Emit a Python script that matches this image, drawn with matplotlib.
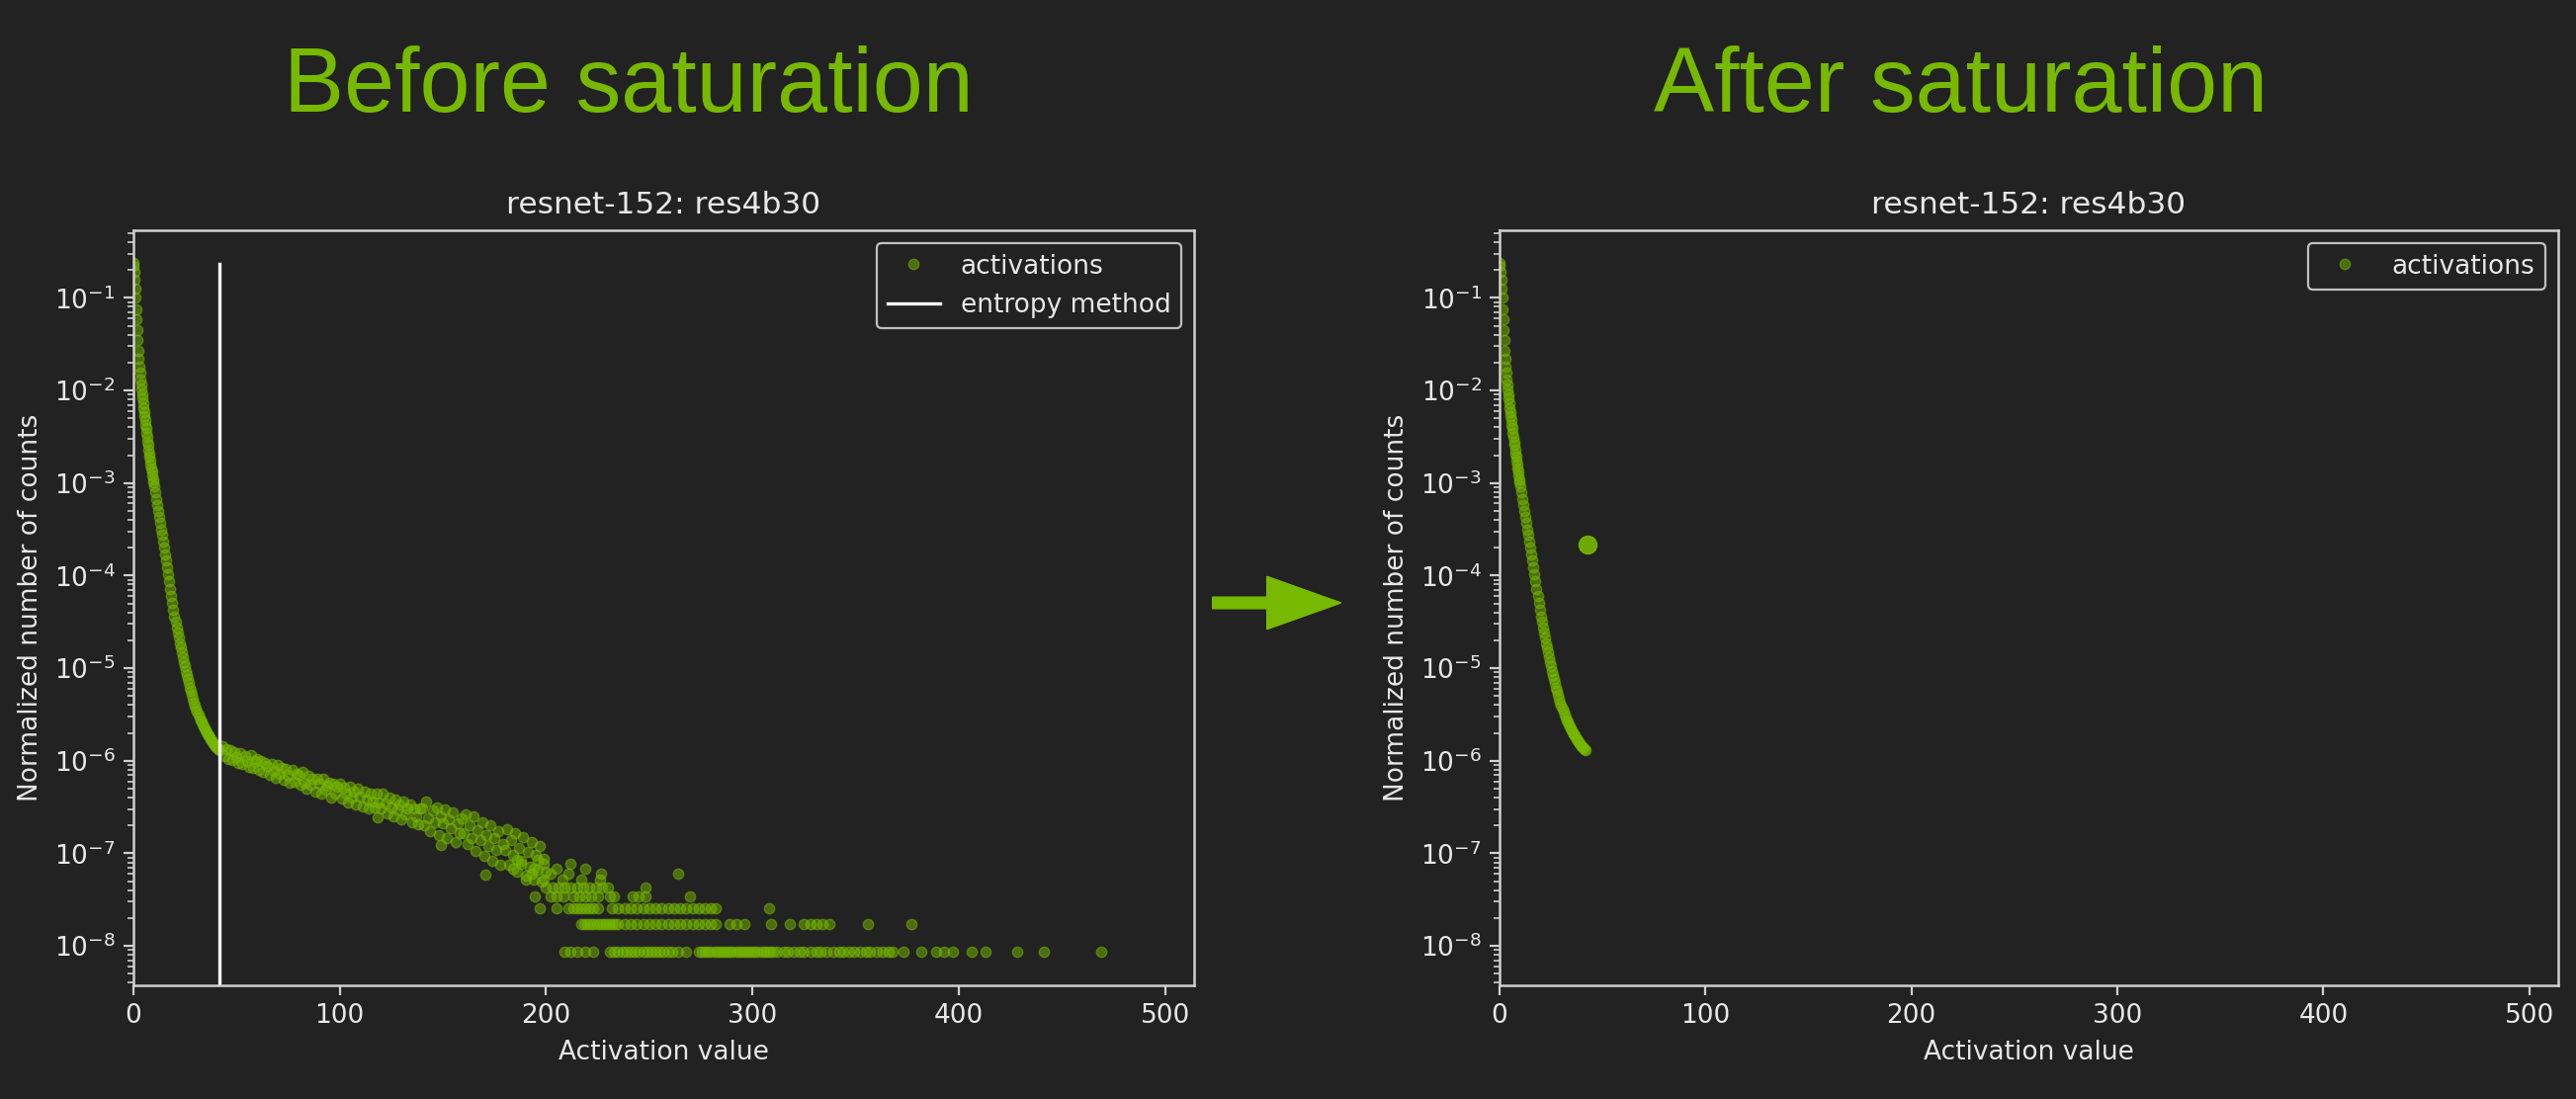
import numpy as np
import matplotlib
matplotlib.use('Agg')
import matplotlib.pyplot as plt
from matplotlib.patches import FancyArrow

bg = '#222222'
green = '#76b900'
fg = '#e8e8e8'
spine_c = '#d0d0d0'

# histogram (log10 of normalized counts)
head_x = np.concatenate([np.arange(0, 10.01, 0.25), np.arange(10.5, 42.01, 0.5)])
head_log10 = [
    -0.62, -0.66, -0.72, -0.80, -0.90, -1.00, -1.12, -1.23, -1.35, -1.46,
    -1.57, -1.66, -1.74, -1.81, -1.88, -1.94, -1.99, -2.04, -2.09, -2.14,
    -2.19, -2.23, -2.28, -2.32, -2.37, -2.41, -2.46, -2.50, -2.55, -2.59,
    -2.64, -2.68, -2.72, -2.76, -2.80, -2.84, -2.88, -2.92, -2.96, -2.99,
    -3.03,
    -3.10, -3.17, -3.24, -3.30, -3.37, -3.43, -3.50, -3.56, -3.63, -3.70,
    -3.77, -3.84, -3.91, -3.99, -4.06, -4.14, -4.22, -4.30, -4.37, -4.44,
    -4.50, -4.56, -4.62, -4.67, -4.73, -4.78, -4.83, -4.88, -4.93, -4.98,
    -5.03, -5.07, -5.12, -5.16, -5.21, -5.25, -5.29, -5.33, -5.37, -5.40,
    -5.44, -5.47, -5.50, -5.53, -5.56, -5.58, -5.61, -5.63, -5.65, -5.67,
    -5.69, -5.71, -5.73, -5.75, -5.77, -5.78, -5.80, -5.81, -5.83, -5.84,
    -5.85, -5.86, -5.87, -5.88,
]

mid_x = np.arange(43, 201)
mid_log10 = [
    -5.84, -5.95, -5.87, -5.98, -5.88, -5.99, -5.91, -5.96, -6.02, -5.92,
    -6.04, -5.95, -6.00, -6.07, -5.94, -6.08, -6.00,
    -5.98, -6.10, -6.00, -6.12, -6.02, -6.06, -6.15, -6.03, -6.11, -6.18,
    -6.05, -6.14, -6.08, -6.21, -6.09, -6.15, -6.24, -6.10, -6.23, -6.14,
    -6.15, -6.26, -6.12, -6.24, -6.30, -6.16, -6.26, -6.19, -6.33, -6.20,
    -6.25, -6.36, -6.20, -6.31, -6.27, -6.24, -6.40, -6.25, -6.35, -6.28,
    -6.25, -6.41, -6.29, -6.36, -6.45, -6.28, -6.40, -6.33, -6.47, -6.30,
    -6.39, -6.49, -6.33, -6.42, -6.52, -6.35, -6.44, -6.50, -6.36, -6.45,
    -6.51, -6.36, -6.46, -6.57, -6.40, -6.50, -6.60, -6.42, -6.53, -6.47,
    -6.63, -6.44, -6.58, -6.52, -6.47, -6.66, -6.52, -6.60, -6.69, -6.51,
    -6.52, -6.70, -6.44, -6.62, -6.76, -6.54, -6.66, -6.50, -6.80, -6.60,
    -6.68, -6.53, -6.84, -6.63, -6.73, -6.56, -6.88, -6.68, -6.78, -6.62,
    -6.78, -6.58, -6.90, -6.70, -6.83, -6.60, -6.97, -6.75, -6.86, -6.66,
    -7.03, -6.80, -6.92, -6.70, -7.08, -6.84, -6.96, -6.76, -7.12, -6.90,
    -6.96, -6.74, -7.12, -6.86, -7.02, -6.78, -7.20, -6.94, -7.08, -6.82,
    -7.24, -6.98, -7.14, -6.88, -7.28, -7.02, -7.18, -6.92, -7.30, -7.06,
    -7.20,
]
outlier_x = [118.5, 148.9, 170.5]
outlier_log10 = [-6.61, -6.91, -7.23]

# sparse tail: bins holding k counts (one count = 8.6e-9)
count_unit = 8.6e-9
tail_k1 = [209, 212, 215, 219, 223,
           231, 233, 235, 237, 239, 241, 243, 245, 247, 249, 251, 253, 255, 257, 259, 261, 264, 268,
           274, 275.5, 277, 278.5, 280, 281.5, 283, 284.5, 286, 287.5, 289, 290.5, 292, 293.5, 295,
           296.5, 298, 299.5, 301, 302.5, 304, 305.5, 307, 308.5, 310,
           312, 315, 317, 320, 323, 325, 328, 331, 333, 336, 339, 342, 344, 347, 349, 352, 355, 357,
           360, 363, 366, 368,
           373, 382, 389, 393, 397, 406, 413, 428, 441, 469]
tail_k2 = [217, 218.5, 220, 221.5, 223, 224.5, 226, 227.5, 229, 230.5, 232, 233.5, 235,
           238, 241, 244, 247, 250, 253, 256, 259, 262, 265, 268, 271, 274, 277, 280, 282,
           289, 292, 296, 309, 318, 325, 328, 331, 334, 337, 356, 377]
tail_k3 = [197, 205, 211, 213, 215, 217, 219, 221, 223, 225, 232, 235, 238, 241, 244, 247,
           250, 253, 256, 259, 262, 265, 268, 271, 274, 277, 280, 282, 308]
tail_k4 = [194.5, 202, 205, 208.5, 213, 216, 219, 222, 225, 231, 233, 242, 245, 248, 269.5]
tail_k5 = [200, 203, 206, 209, 212, 215, 218, 221, 224, 227, 230, 248]
tail_k6 = [190, 199, 208, 217, 226]
tail_k7 = [193, 202, 211, 226.6, 264]
tail_k8 = [184, 194, 205, 219]
tail_k9 = [188, 199, 212]
tail_k10 = [186, 196]
tails = [tail_k1, tail_k2, tail_k3, tail_k4, tail_k5, tail_k6, tail_k7, tail_k8, tail_k9, tail_k10]

threshold = 42
line_top = 0.235
sat_x = 42.5
sat_y = 2.15e-4

head_y = 10.0 ** np.array(head_log10)
mid_y = 10.0 ** np.array(mid_log10)
out_y = 10.0 ** np.array(outlier_log10)
tail_x = np.concatenate([np.array(t, float) for t in tails])
tail_y = np.concatenate([np.full(len(t), (k + 1) * count_unit) for k, t in enumerate(tails)])

all_x = np.concatenate([head_x, mid_x, outlier_x, tail_x])
all_y = np.concatenate([head_y, mid_y, out_y, tail_y])

plt.rcParams['font.family'] = 'DejaVu Sans'
fig = plt.figure(figsize=(26.06, 11.12), dpi=100, facecolor=bg)
ax1 = fig.add_axes([0.0517, 0.1034, 0.4119, 0.6871])
ax2 = fig.add_axes([0.5821, 0.1034, 0.4110, 0.6871])


def style(ax):
    ax.set_facecolor(bg)
    ax.set_yscale('log')
    ax.set_xlim(0, 514)
    ax.set_ylim(3.75e-9, 0.537)
    for s in ax.spines.values():
        s.set_color(spine_c)
        s.set_linewidth(1.8)
    ax.tick_params(which='major', length=7, width=1.6, colors=spine_c, labelcolor=fg,
                   labelsize=19, pad=6)
    ax.tick_params(which='minor', length=4, width=1.2, colors=spine_c)
    ax.set_title('resnet-152: res4b30', fontsize=22.5, color=fg, pad=12)
    ax.set_xlabel('Activation value', fontsize=19, color=fg, labelpad=8)
    ax.set_ylabel('Normalized number of counts', fontsize=19, color=fg, labelpad=8)


style(ax1)
ax1.plot(all_x, all_y, 'o', color=green, alpha=0.5, ms=7.5, label='activations')
ax1.plot([threshold, threshold], [1e-12, line_top], color='white', lw=2.4, label='entropy method')
leg = ax1.legend(loc='upper right', fontsize=19, facecolor=bg, edgecolor='#c0c0c0',
                 framealpha=1, labelcolor=fg)
leg.get_frame().set_linewidth(1.6)

style(ax2)
ax2.plot(head_x, head_y, 'o', color=green, alpha=0.5, ms=7.5, label='activations')
ax2.plot([sat_x], [sat_y], 'o', color=green, alpha=0.9, ms=13)
leg = ax2.legend(loc='upper right', fontsize=19, facecolor=bg, edgecolor='#c0c0c0',
                 framealpha=1, labelcolor=fg)
leg.get_frame().set_linewidth(1.6)

fig.text(0.244, 0.898, 'Before saturation', fontsize=66, color=green,
         family='Liberation Sans', ha='center', va='baseline')
fig.text(0.7612, 0.898, 'After saturation', fontsize=66, color=green,
         family='Liberation Sans', ha='center', va='baseline')

arrow = FancyArrow(12.267, 5.02, 1.30, 0, width=0.117, head_width=0.535, head_length=0.75,
                   length_includes_head=True, color=green, transform=fig.dpi_scale_trans)
fig.add_artist(arrow)

fig.savefig('out.png', dpi=100, facecolor=bg)
